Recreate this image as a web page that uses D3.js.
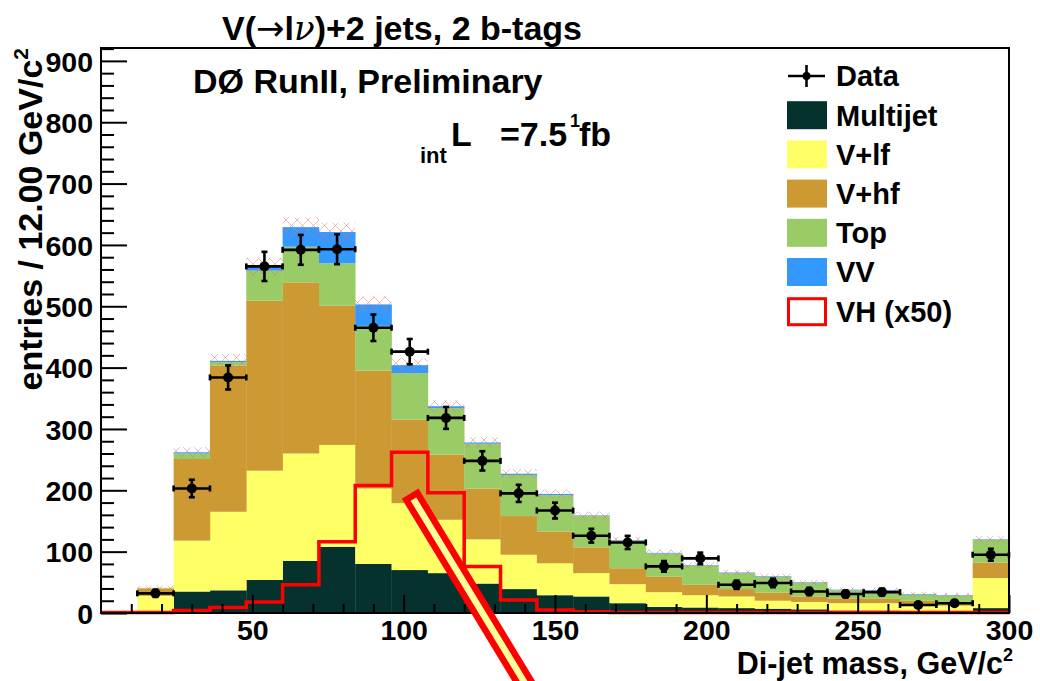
<!DOCTYPE html>
<html>
<head>
<meta charset="utf-8">
<script src="https://cdn.jsdelivr.net/npm/d3@7"></script>
<style>
  html, body { margin: 0; padding: 0; background: #fff; }
  svg { display: block; font-family: "Liberation Sans", Arial, Helvetica, sans-serif; font-weight: bold; }
</style>
</head>
<body>
<svg id="chart" width="1040" height="681"></svg>
<script>
// ---------------- data ----------------
const binLow   = [12,24,36,48,60,72,84,96,108,120,132,144,156,168,180,192,204,216,228,240,252,264,276,288];
const binWidth = 12;
const multijet = [1,35,37,54,85,108,80,70,65,48,39,29,27,16,10,9,8,7,6,4,4,3,3,8];
const vlf      = [27,83,128,178,175,166,123,109,87,72,56,52,38,31,24,20,19,13,12,12,12,10,9,49];
const vhf      = [12,133,238,277,279,227,192,136,106,83,63,52,42,26,25,17,12,13,9,8,7,7,6,25];
const topq     = [1,9,6,49,58,69,73,76,76,73,67,59,51,45,38,31,26,26,22,13,13,10,10,37];
const vv       = [0,2,2,7,32,51,35,13,3,2,2,2,1,1,1,1,1,1,1,1,1,1,1,1];
const dataVals = [32,203,384,565,592,593,465,426,318,248,195,167,126,115,76,89,46,49,35,31,34,13,16,95];
const vhLow    = [0,12,24,36,48,60,72,84,96,108,120,132,144,156,168,180,192,204,216,228,240,252,264,276,288];
const vhX50    = [1,1,4,9,18,46,116,208,262,196,76,21,5,2,1,1,1,1,1,1,1,1,1,1,1];

const seriesNames  = ["Multijet","V+lf","V+hf","Top","VV"];
const seriesColors = ["#06322d","#ffff66","#cc9933","#99cc66","#3399ff"];
const xTicks = [50,100,150,200,250,300];
const yTicks = [0,100,200,300,400,500,600,700,800,900];
const legendLabels = ["Data","Multijet","V+lf","V+hf","Top","VV","VH (x50)"];
const arrowAnchor = [102.7, 190];   // annotation bar top (data coords)

// ---------------- layout ----------------
const svg = d3.select("#chart");
const L = 101, R = 1009, T = 48, B = 613;
const x = d3.scaleLinear().domain([0, 300]).range([L, R]);
const y = d3.scaleLinear().domain([0, 921]).range([B, T]);

// stack table
const table = binLow.map((lo, i) => ({
  lo, "Multijet": multijet[i], "V+lf": vlf[i], "V+hf": vhf[i], "Top": topq[i], "VV": vv[i]
}));
const stacked = d3.stack().keys(seriesNames)(table);

const gStack = svg.append("g");
stacked.forEach((layer, k) => {
  gStack.selectAll(null).data(layer).enter().append("rect")
    .attr("x", d => x(d.data.lo))
    .attr("width", d => x(d.data.lo + binWidth) - x(d.data.lo) + 0.3)
    .attr("y", d => y(d[1]))
    .attr("height", d => Math.max(0, y(d[0]) - y(d[1])))
    .attr("fill", seriesColors[k]);
});

// hatched uncertainty band
const defs = svg.append("defs");
const pat = defs.append("pattern").attr("id", "hatch").attr("patternUnits", "userSpaceOnUse")
  .attr("width", 11).attr("height", 11);
pat.append("path").attr("d", "M0,0L11,11M0,11L11,0").attr("stroke", "#e07070")
  .attr("stroke-width", 0.7).attr("fill", "none").attr("opacity", 0.7);
const totals = table.map(d => seriesNames.reduce((s, k) => s + d[k], 0));
svg.append("g").selectAll("rect").data(table).enter().append("rect")
  .attr("x", d => x(d.lo))
  .attr("width", d => x(d.lo + binWidth) - x(d.lo))
  .attr("y", (d, i) => y(totals[i] * 1.02 + 3))
  .attr("height", (d, i) => y(totals[i] * 0.98 - 3) - y(totals[i] * 1.02 + 3))
  .attr("fill", "url(#hatch)");

// VH x50 outline
const vhPts = vhLow.map((lo, i) => [lo, vhX50[i]]);
vhPts.push([300, vhX50[vhX50.length - 1]]);
svg.append("path")
  .attr("d", d3.line().x(d => x(d[0])).y(d => y(d[1])).curve(d3.curveStepAfter)(vhPts))
  .attr("fill", "none").attr("stroke", "#ff0000").attr("stroke-width", 3.5);

// data points
const gData = svg.append("g").attr("stroke", "#000").attr("stroke-width", 2.6);
binLow.forEach((lo, i) => {
  const cx = x(lo + binWidth / 2), cy = y(dataVals[i]);
  const x0 = x(lo), x1 = x(lo + binWidth);
  const err = Math.sqrt(dataVals[i]);
  const y0 = y(dataVals[i] - err), y1 = y(dataVals[i] + err);
  gData.append("line").attr("x1", x0).attr("x2", x1).attr("y1", cy).attr("y2", cy);
  gData.append("line").attr("x1", x0).attr("x2", x0).attr("y1", cy - 3).attr("y2", cy + 3);
  gData.append("line").attr("x1", x1).attr("x2", x1).attr("y1", cy - 3).attr("y2", cy + 3);
  gData.append("line").attr("x1", cx).attr("x2", cx).attr("y1", y0).attr("y2", y1);
  gData.append("line").attr("x1", cx - 3).attr("x2", cx + 3).attr("y1", y0).attr("y2", y0);
  gData.append("line").attr("x1", cx - 3).attr("x2", cx + 3).attr("y1", y1).attr("y2", y1);
  gData.append("circle").attr("cx", cx).attr("cy", cy).attr("r", 5).attr("fill", "#000").attr("stroke", "none");
});

// axes (ticks inside the frame)
const yMajor = d3.axisLeft(y).tickValues(yTicks).tickSizeInner(-26).tickSizeOuter(0).tickPadding(8);
const gy = svg.append("g").attr("transform", `translate(${L},0)`).call(yMajor);
const yMinor = d3.axisLeft(y).tickValues(d3.range(0, 921, 20).filter(v => v % 100 !== 0))
  .tickSizeInner(-13).tickSizeOuter(0).tickFormat("");
svg.append("g").attr("transform", `translate(${L},0)`).call(yMinor);
const xMajor = d3.axisBottom(x).tickValues(xTicks).tickSizeInner(-18).tickSizeOuter(0).tickPadding(7);
const gx = svg.append("g").attr("transform", `translate(0,${B})`).call(xMajor);
const xMinor = d3.axisBottom(x).tickValues(d3.range(10, 300, 10).filter(v => v % 50 !== 0))
  .tickSizeInner(-9).tickSizeOuter(0).tickFormat("");
svg.append("g").attr("transform", `translate(0,${B})`).call(xMinor);
svg.selectAll(".domain").remove();
svg.selectAll(".tick line").attr("stroke", "#000").attr("stroke-width", 2);
[gx, gy].forEach(g => g.selectAll("text")
  .attr("font-family", "Liberation Sans, Arial, sans-serif").attr("font-weight", "bold")
  .attr("font-size", 28.5).attr("fill", "#000"));
gy.selectAll("text").attr("dy", "0.36em");
gx.selectAll("text").attr("dy", "0.7em");

// frame
svg.append("rect").attr("x", L).attr("y", T).attr("width", R - L).attr("height", B - T)
  .attr("fill", "none").attr("stroke", "#000").attr("stroke-width", 2);

// texts
const title = svg.append("text").attr("x", 222).attr("y", 40).attr("font-size", 34);
title.append("tspan").text("V(");
title.append("tspan").attr("font-family", "DejaVu Sans").attr("font-weight", "normal").text("\u2192");
title.append("tspan").text("l");
title.append("tspan").attr("font-family", "DejaVu Serif").attr("font-style", "italic").attr("font-weight", "normal").text("\u03bd");
title.append("tspan").text(")+2 jets, 2 b-tags");
svg.append("text").attr("x", 193).attr("y", 93).attr("font-size", 34).text("D\u00d8 RunII, Preliminary");
svg.append("text").attr("x", 420).attr("y", 163).attr("font-size", 22).text("int");
svg.append("text").attr("x", 451).attr("y", 146).attr("font-size", 34).text("L");
svg.append("text").attr("x", 500).attr("y", 146).attr("font-size", 34).text("=7.5");
svg.append("text").attr("x", 570).attr("y", 127).attr("font-size", 18).text("1");
svg.append("text").attr("x", 579).attr("y", 146).attr("font-size", 34).text("fb");

const xt = svg.append("text").attr("x", 1013).attr("y", 674).attr("font-size", 30.5).attr("text-anchor", "end");
xt.append("tspan").text("Di-jet mass, GeV/c");
xt.append("tspan").attr("font-size", 18).attr("dy", -13).text("2");

const yt = svg.append("text").attr("transform", "translate(42,48) rotate(-90)")
  .attr("font-size", 34).attr("text-anchor", "end");
yt.append("tspan").text("entries / 12.00 GeV/c");
yt.append("tspan").attr("font-size", 21).attr("dy", -14).text("2");

// legend
const lg = svg.append("g");
legendLabels.forEach((lab, i) => {
  const cy = 76 + i * 39.2;
  if (i === 0) {
    lg.append("line").attr("x1", 788).attr("x2", 825).attr("y1", cy).attr("y2", cy).attr("stroke", "#000").attr("stroke-width", 2.6);
    lg.append("line").attr("x1", 806.5).attr("x2", 806.5).attr("y1", cy - 11).attr("y2", cy + 11).attr("stroke", "#000").attr("stroke-width", 2.6);
    lg.append("circle").attr("cx", 806.5).attr("cy", cy).attr("r", 4).attr("fill", "#000");
  } else if (i <= 5) {
    lg.append("rect").attr("x", 787).attr("y", cy - 14).attr("width", 40).attr("height", 28)
      .attr("fill", seriesColors[i - 1]);
  } else {
    lg.append("rect").attr("x", 788.5).attr("y", cy - 12.5).attr("width", 37).attr("height", 26)
      .attr("fill", "#fff").attr("stroke", "#ff0000").attr("stroke-width", 3);
  }
  lg.append("text").attr("x", 836).attr("y", cy).attr("dy", "0.36em").attr("font-size", 29).text(lab);
});

// annotation bar (arrow shaft)
const ang = 58.8 * Math.PI / 180, len = 260, hw = 6.5;
const ax0 = x(arrowAnchor[0]), ay0 = y(arrowAnchor[1]);
const ux = Math.cos(ang), uy = Math.sin(ang), px = -uy, py = ux;
const poly = [
  [ax0 + px * hw, ay0 + py * hw],
  [ax0 - px * hw, ay0 - py * hw],
  [ax0 - px * hw + ux * len, ay0 - py * hw + uy * len],
  [ax0 + px * hw + ux * len, ay0 + py * hw + uy * len]
];
svg.append("path").attr("d", "M" + poly.map(p => p.join(",")).join("L") + "Z")
  .attr("fill", "#ffff99").attr("stroke", "#ff0000").attr("stroke-width", 6.5).attr("stroke-linejoin", "miter");
</script>
</body>
</html>
